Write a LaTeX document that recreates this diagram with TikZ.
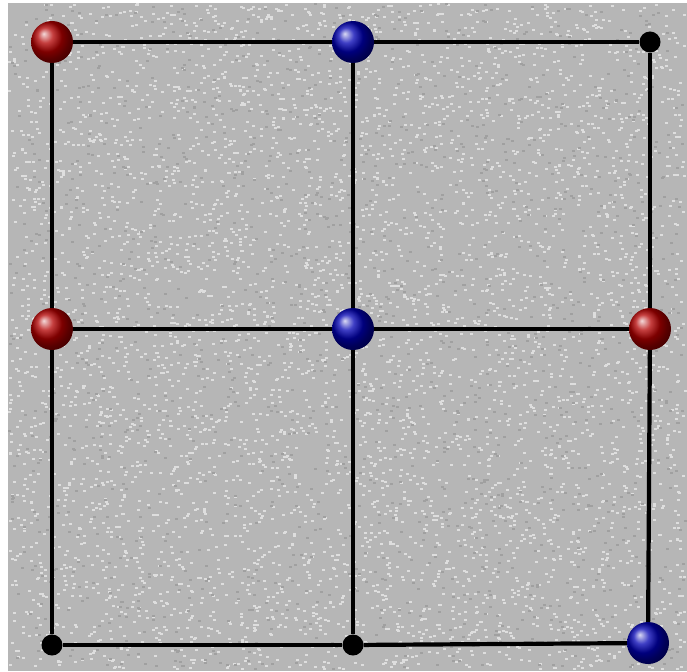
\documentclass[tikz,border=0pt]{standalone}
\usetikzlibrary{shadings}
\definecolor{bggray}{RGB}{182,182,182}
\definecolor{speckl}{RGB}{222,222,222}
\definecolor{speckd}{RGB}{160,160,160}
\tikzset{
  redball/.style={circle, minimum size=42pt, inner sep=0pt, ball color=red!70!black},
  blueball/.style={circle, minimum size=42pt, inner sep=0pt, ball color=blue!70!black},
  blackdot/.style={circle, fill=black, minimum size=21pt, inner sep=0pt},
  edge/.style={line width=4.2pt, black},
}
\begin{document}
\begin{tikzpicture}[x=1pt,y=-1pt]
\useasboundingbox (0,0) rectangle (687,671);
\fill[white] (0,0) rectangle (687,671);
\fill[bggray] (8,3) rectangle (687,671);
\pgfmathsetseed{7}
\foreach \i in {1,...,5000}{
  \pgfmathsetmacro\xx{8+676*rnd}
  \pgfmathsetmacro\yy{3+665*rnd}
  \fill[speckl] (\xx,\yy) rectangle ++(3,2);
}
\foreach \i in {1,...,1500}{
  \pgfmathsetmacro\xx{8+676*rnd}
  \pgfmathsetmacro\yy{3+665*rnd}
  \fill[speckd] (\xx,\yy) rectangle ++(3,2);
}
% nodes
\node[redball]  (a1) at (52,42) {};
\node[blueball] (a2) at (353,42) {};
\node[blackdot] (a3) at (650,42) {};
\node[redball]  (b1) at (52,329) {};
\node[blueball] (b2) at (353,329) {};
\node[redball]  (b3) at (650,329) {};
\node[blackdot] (c1) at (52,645) {};
\node[blackdot] (c2) at (353,645) {};
\node[blueball] (c3) at (648,643) {};
% edges
\draw[edge] (a1) -- (a2);
\draw[edge] (a2) -- (a3);
\draw[edge] (b1) -- (b2);
\draw[edge] (b2) -- (b3);
\draw[edge] (c1) -- (c2);
\draw[edge] (c2) -- (c3);
\draw[edge] (a1) -- (b1);
\draw[edge] (b1) -- (c1);
\draw[edge] (a2) -- (b2);
\draw[edge] (b2) -- (c2);
\draw[edge] (a3) -- (b3);
\draw[edge] (b3) -- (c3);
\end{tikzpicture}
\end{document}
